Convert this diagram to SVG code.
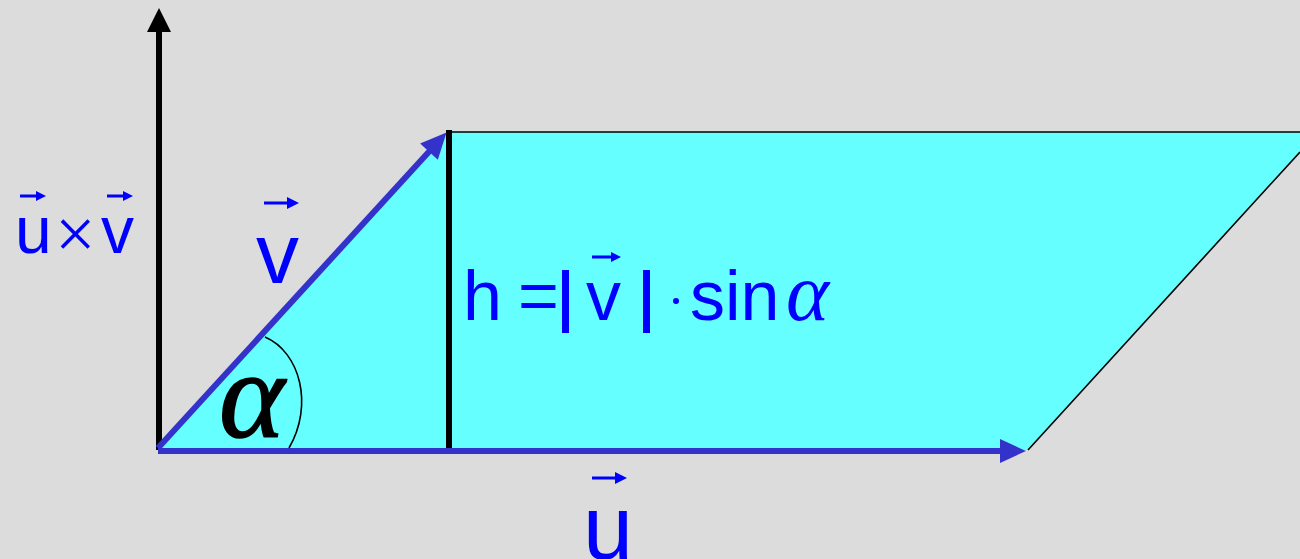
<svg xmlns="http://www.w3.org/2000/svg" width="1300" height="559" viewBox="0 0 1300 559">
<defs>
<style>
.lbl{font-family:"Liberation Sans",Arial,sans-serif;fill:#0000FF;}
.greek{font-family:"Liberation Serif","Times New Roman",serif;font-style:italic;}
.vec{stroke:#0000FF;stroke-width:3;fill:none;}
.vech{fill:#0000FF;}
.blue{stroke:#3333CC;stroke-width:6;fill:none;}
</style>
<marker id="ahBlue" markerUnits="userSpaceOnUse" markerWidth="40" markerHeight="30" viewBox="-10 -15 40 30" refX="0" refY="0" orient="auto">
<path d="M23,0 L-3,-12 L-3,12 Z" fill="#3333CC"/>
</marker>
<marker id="ahBlack" markerUnits="userSpaceOnUse" markerWidth="40" markerHeight="30" viewBox="-10 -15 40 30" refX="0" refY="0" orient="auto">
<path d="M22,0 L-2,-12 L-2,12 Z" fill="#000000"/>
</marker>
</defs>
<rect x="0" y="0" width="1300" height="559" fill="#DCDCDC"/>
<g id="parallelogram">
<polygon points="158,450 448,132 1300,132 1300,152 1028,450" fill="#66FFFF"/>
<path d="M448,132 H1300 M1028,450 L1300,152" stroke="#000" stroke-width="1.6" fill="none"/>
</g>
<g id="connectors">
<line id="cross" x1="159" y1="450" x2="159" y2="30" stroke="#000" stroke-width="6" marker-end="url(#ahBlack)"/>
<line id="h" x1="449" y1="130" x2="449" y2="454" stroke="#000" stroke-width="6"/>
<line id="u-vec" class="blue" x1="158" y1="451" x2="1003" y2="451" marker-end="url(#ahBlue)"/>
<line id="v-vec" class="blue" x1="158" y1="448" x2="431" y2="149.5" marker-end="url(#ahBlue)"/>
<path id="angle-arc" d="M265,337 C300,352 314,405 289,448" stroke="#000" stroke-width="1.6" fill="none"/>
</g>
<g id="label-alpha">
<text x="219" y="437" font-size="125" class="greek" fill="#000" stroke="#000" stroke-width="1.5">α</text>
</g>
<g id="label-uxv">
<text x="15" y="253" font-size="66" class="lbl">u</text>
<text x="55" y="258" font-size="72" class="greek" font-style="normal" fill="#0000FF" style="font-style:normal">×</text>
<text x="101" y="253" font-size="66" class="lbl">v</text>
<line class="vec" x1="20" y1="196" x2="38" y2="196"/><path class="vech" d="M46,196 L36,191 L36,201 Z"/>
<line class="vec" x1="107" y1="196" x2="125" y2="196"/><path class="vech" d="M133,196 L123,191 L123,201 Z"/>
</g>
<g id="label-v">
<text x="256" y="283" font-size="86" class="lbl">v</text>
<line class="vec" x1="264" y1="203" x2="288" y2="203"/><path class="vech" d="M299,203 L287,197 L287,209 Z"/>
</g>
<g id="label-u">
<text x="583" y="559" font-size="90" class="lbl">u</text>
<line class="vec" x1="592" y1="478" x2="616" y2="478"/><path class="vech" d="M627,478 L615,472 L615,484 Z"/>
</g>
<g id="label-h">
<text x="463" y="320" font-size="70" class="lbl">h</text>
<text x="518" y="320" font-size="70" class="lbl">=</text>
<rect x="562" y="270" width="7" height="63" fill="#0000FF"/>
<text x="586" y="320" font-size="70" class="lbl">v</text>
<line class="vec" x1="592" y1="257" x2="612" y2="257"/><path class="vech" d="M621,257 L611,252 L611,262 Z"/>
<rect x="643" y="270" width="7" height="63" fill="#0000FF"/>
<circle cx="676" cy="301" r="3" fill="#0000FF"/>
<text x="690" y="320" font-size="70" class="lbl">sin</text>
<text x="786" y="320" font-size="82" class="greek" fill="#0000FF">α</text>
</g>
</svg>
